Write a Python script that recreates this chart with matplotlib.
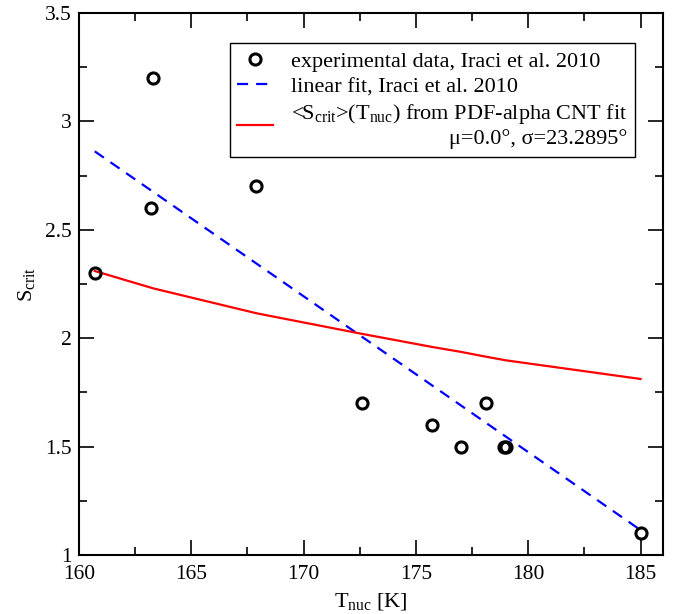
import numpy as np
import matplotlib
matplotlib.use("Agg")
import matplotlib.pyplot as plt
from matplotlib.ticker import MultipleLocator

plt.rcParams['font.family'] = ['Liberation Serif', 'DejaVu Serif']
plt.rcParams['mathtext.fontset'] = 'custom'
plt.rcParams['mathtext.rm'] = 'Liberation Serif'
plt.rcParams['mathtext.it'] = 'Liberation Serif:italic'
plt.rcParams['font.size'] = 15

# experimental data, Iraci et al. 2010
t_exp = [160.7, 163.3, 163.2, 167.9, 172.6, 175.7, 177.0, 178.1, 178.9, 179.0, 185.0]
s_exp = [2.3, 3.2, 2.6, 2.7, 1.7, 1.6, 1.5, 1.7, 1.5, 1.5, 1.1]

# linear fit (end points)
t_lin = [160.7, 185.0]
s_lin = [2.862, 1.115]

# <S_crit>(T_nuc) from the PDF-alpha CNT fit
t_cnt = [160.7, 163.3, 167.9, 172.6, 175.7, 177.0, 178.1, 179.0, 185.0]
s_cnt = [2.31, 2.23, 2.115, 2.02, 1.96, 1.937, 1.915, 1.898, 1.812]

fig = plt.figure(figsize=(6.78, 6.14), dpi=100)
ax = fig.add_axes([79/678, 59/614, 584/678, 542/614])

ax.plot(t_exp, s_exp, 'o', ms=8, mfc='none', mec='black', mew=2.2,
        label='experimental data, Iraci et al. 2010', zorder=3)
ax.plot(t_lin, s_lin, color='blue', lw=1.6, dashes=(5, 3.6),
        label='linear fit, Iraci et al. 2010')
ax.plot(t_cnt, s_cnt, color='red', lw=1.6,
        label='<S$_{\\rm crit}$>(T$_{\\rm nuc}$) from PDF-alpha CNT fit\n'
              u'\u03bc=0.0\u00b0, \u03c3=23.2895\u00b0')

ax.set_xlim(160, 186)
ax.set_ylim(1, 3.5)
ax.xaxis.set_major_locator(MultipleLocator(5))
ax.xaxis.set_minor_locator(MultipleLocator(2.5))
ax.yaxis.set_major_locator(MultipleLocator(0.5))
ax.yaxis.set_minor_locator(MultipleLocator(0.25))
ax.tick_params(which='both', direction='in', top=True, right=True,
               width=1.2, labelsize=15.5)
ax.tick_params(axis='x', pad=7)
ax.tick_params(axis='y', pad=5)
ax.tick_params(which='major', length=11)
ax.tick_params(which='minor', length=5.5)
ax.set_yticks([1, 1.5, 2, 2.5, 3, 3.5])
ax.set_yticklabels(['1', '1.5', '2', '2.5', '3', '3.5'])
for sp in ax.spines.values():
    sp.set_linewidth(1.5)

ax.set_xlabel('T$_{\\rm nuc}$ [K]', fontsize=16, labelpad=5)
ax.set_ylabel('S$_{\\rm crit}$', fontsize=16, labelpad=6)

leg = ax.legend(loc='upper right', bbox_to_anchor=(0.952, 0.944),
                borderaxespad=0, fancybox=False, framealpha=1,
                edgecolor='black', handlelength=1.6, handletextpad=0.8,
                labelspacing=0.22, borderpad=0.35, fontsize=16)
leg.get_frame().set_linewidth(1.0)
leg.get_texts()[2].set_multialignment('right')

fig.savefig('out.png', dpi=100)
